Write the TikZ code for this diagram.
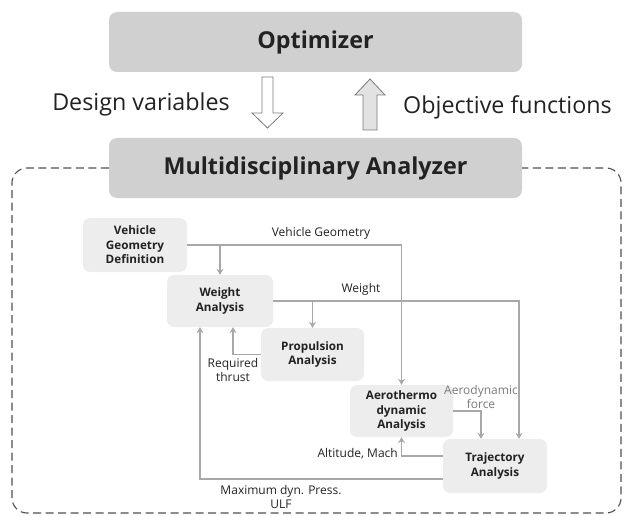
\documentclass[tikz,border=0pt]{standalone}
\usepackage{fontspec}
\setmainfont{Open Sans}
\usetikzlibrary{arrows.meta,calc}
\definecolor{topfill}{HTML}{D0D0D0}
\definecolor{boxfill}{HTML}{EDEDED}
\definecolor{wire}{HTML}{A8A8A8}
\definecolor{ink}{HTML}{222222}
\definecolor{frameink}{HTML}{505050}
\definecolor{softink}{HTML}{7A7A7A}
\begin{document}
\begin{tikzpicture}[x=1pt,y=-1pt,
  topbox/.style={fill=topfill, rounded corners=8pt, minimum width=413pt,
    minimum height=60pt, font=\fontsize{23.3}{27}\selectfont\bfseries, text=ink},
  unit/.style={fill=boxfill, rounded corners=7pt, align=center,
    font=\fontsize{11.7}{14.5}\selectfont\bfseries, text=ink, inner sep=0pt},
  flow/.style={draw=wire, line width=1.3pt, -{Stealth[length=6pt,width=7pt]}},
  tag/.style={font=\fontsize{12}{14}\selectfont, text=ink, align=center, inner sep=0pt},
  bigtag/.style={font=\fontsize{23.3}{27}\selectfont, text=ink, inner sep=0pt},
  blockarrow/.style={draw=softink, line width=0.8pt, line join=miter},
  frame/.style={draw=frameink, line width=1.1pt, dash pattern=on 8pt off 4.5pt,
    rounded corners=15pt},
]
\useasboundingbox (0,0) rectangle (624,516);

% optimizer level
\node[topbox] (opt) at (315.5,42) {Optimizer};
\node[topbox] (mda) at (315.5,168) {Multidisciplinary Analyzer};

% dashed enclosure of the analyzer
\draw[frame] (mda.west) -- (12,168) -- (12,513) -- (621,513) -- (621,168) -- (mda.east);

% block arrows between optimizer and analyzer
\draw[blockarrow, fill=white] (262,77) -- (273,77) -- (273,113) -- (283,113)
  -- (267.5,128) -- (252,113) -- (262,113) -- cycle;
\draw[blockarrow, fill=boxfill!90!gray] (363,130) -- (377,130) -- (377,95) -- (385,95)
  -- (370,79) -- (355,95) -- (363,95) -- cycle;
\node[bigtag, anchor=east] (dv) at (230,104) {Design variables};
\node[bigtag, anchor=west] (of) at (403,107) {Objective functions};

% disciplines
\node[unit, minimum width=104pt, minimum height=54pt] (vgd) at (135,245)
  {Vehicle\\Geometry\\Definition};
\node[unit, minimum width=106pt, minimum height=52pt] (wa) at (220,301)
  {Weight\\Analysis};
\node[unit, minimum width=103pt, minimum height=53pt] (pa) at (312.5,354.5)
  {Propulsion\\Analysis};
\node[unit, minimum width=103pt, minimum height=52pt] (aero) at (401.5,411)
  {Aerothermo\\dynamic\\Analysis};
\node[unit, minimum width=104pt, minimum height=54pt] (traj) at (495,466)
  {Trajectory\\Analysis};

% helper columns for the feedback lines
\coordinate (colW) at (519,0);
\coordinate (colRT) at (233,0);
\coordinate (colAF) at (481,0);
\coordinate (colMX) at (200,0);
\coordinate (altrow) at ($(traj.west)+(0,-10)$);
\coordinate (maxrow) at ($(traj.west)+(0,13)$);

% data flow
\draw[flow] (vgd.east) -| (aero.north);
\draw[flow] (wa.north |- vgd.east) -- (wa.north);
\draw[flow] (wa.east) -| (traj.north -| colW);
\draw[flow] (pa.north |- wa.east) -- (pa.north);
\draw[flow] (pa.west) -| (wa.south -| colRT);
\draw[flow] (aero.east) -| (traj.north -| colAF);
\draw[flow] (altrow) -| (aero.south);
\draw[flow] (maxrow) -| (wa.south -| colMX);

% flow labels
\node[tag] (lvg) at (321,233) {Vehicle Geometry};
\node[tag] (lw) at (361,289) {Weight};
\node[tag] (lrt) at (233,370) {Required\\thrust};
\node[tag, text=softink] (laf) at (481,397) {Aerodynamic\\force};
\node[tag, anchor=east] (lam) at (398,454) {Altitude, Mach};
\node[tag] (lmx) at (281,497) {Maximum dyn. Press.\\ULF};
\end{tikzpicture}
\end{document}
